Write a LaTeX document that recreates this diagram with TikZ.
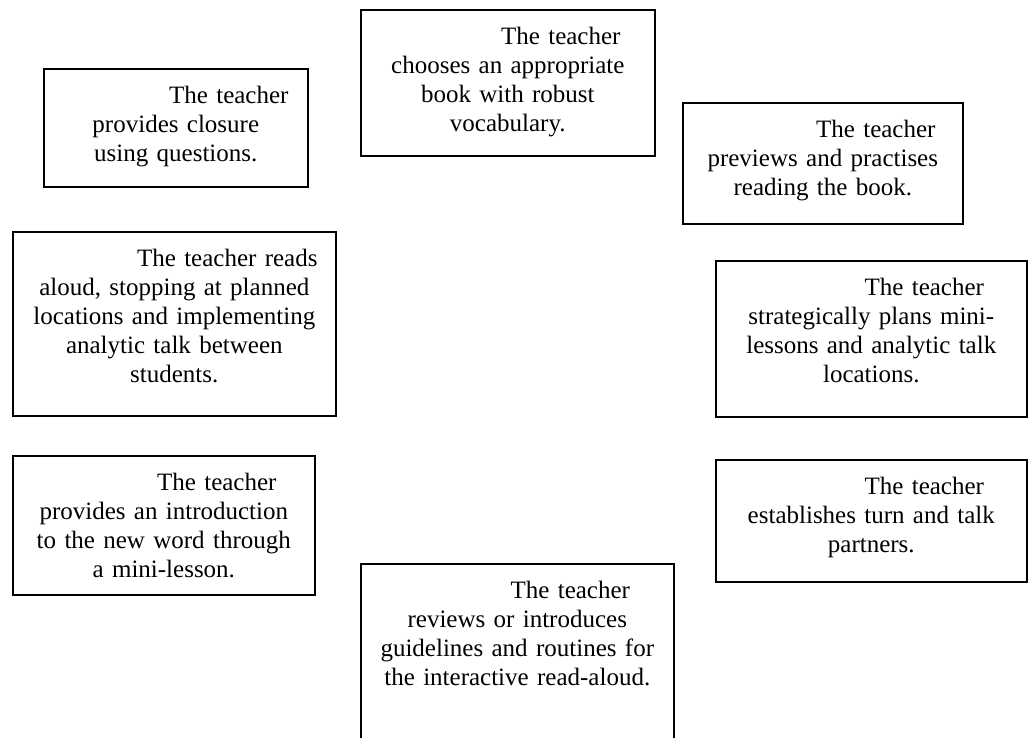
\documentclass[tikz,border=0pt]{standalone}
\usepackage{fontspec}
\setmainfont{Liberation Serif}
\usepackage{tikz}
\usetikzlibrary{positioning}
\newcommand{\tindent}{\hspace*{106pt}}

\begin{document}
\begin{tikzpicture}[
    x=1pt, y=-1pt,
    teachstep/.style={rectangle, draw=black, line width=1.6pt, anchor=north west,
                 inner sep=0pt, align=center, text height=35pt,
                 font=\fontsize{25}{28.8}\selectfont}
]
\clip (0,0) rectangle (1030,738);
\node[teachstep, text width=294pt, text depth=111pt] (choose) at (360,9)
  {\tindent The teacher\\ chooses an appropriate\\ book with robust\\ vocabulary.};
\node[teachstep, text width=264pt, text depth=83pt] (closure) at (43,68)
  {\tindent The teacher\\ provides closure\\ using questions.};
\node[teachstep, text width=280pt, text depth=86pt] (preview) at (682,102)
  {\tindent The teacher\\ previews and practises\\ reading the book.};
\node[teachstep, text width=323pt, text depth=149pt] (readaloud) at (12,231)
  {\tindent The teacher reads\\ aloud, stopping at planned\\ locations and implementing\\ analytic talk between\\ students.};
\node[teachstep, text width=311pt, text depth=121pt] (plan) at (715,260)
  {\tindent The teacher\\ strategically plans mini-\\ lessons and analytic talk\\ locations.};
\node[teachstep, text width=302pt, text depth=104pt] (intro) at (12,455)
  {\tindent The teacher\\ provides an introduction\\ to the new word through\\ a mini-lesson.};
\node[teachstep, text width=311pt, text depth=87pt] (partners) at (715,459)
  {\tindent The teacher\\ establishes turn and talk\\ partners.};
\node[teachstep, text width=313pt, text depth=165pt] (routines) at (360,563)
  {\tindent The teacher\\ reviews or introduces\\ guidelines and routines for\\ the interactive read-aloud.};
\end{tikzpicture}
\end{document}
